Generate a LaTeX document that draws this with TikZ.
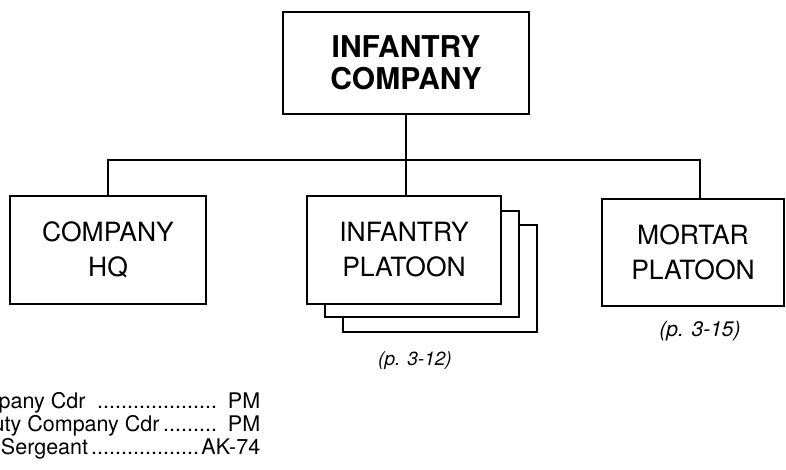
\documentclass[tikz,border=0pt]{standalone}
\usepackage{fontspec}
\setmainfont{TeX Gyre Heros}
\newcommand{\mydots}{\leaders\hbox to 6pt{\hss.\hss}\hfill}
\tikzset{
  unitbox/.style={draw, line width=1.5pt, fill=white, rectangle, inner sep=0pt, align=center,
    font=\fontsize{26.5}{35}\selectfont},
  topbox/.style={unitbox, font=\fontsize{30}{32}\selectfont\bfseries},
  conn/.style={line width=1.5pt},
  pageref/.style={font=\fontsize{19}{20}\selectfont\itshape, inner sep=0pt},
  roster/.style={font=\fontsize{21.5}{23}\selectfont, inner sep=0pt, anchor=base west}
}
\begin{document}
\begin{tikzpicture}[x=1pt,y=-1pt]
\useasboundingbox (0,0) rectangle (786,470);
\clip (0,0) rectangle (786,470);
\node[topbox, minimum width=246pt, minimum height=102pt] (top) at (406,63) {INFANTRY\\COMPANY};
\node[unitbox, minimum width=196pt, minimum height=108pt] (hq) at (108,250) {COMPANY\\HQ};
\node[unitbox, minimum width=194pt, minimum height=107pt] (plt3) at (440,278.5) {};
\node[unitbox, minimum width=194pt, minimum height=106pt] (plt2) at (422,264) {};
\node[unitbox, minimum width=194pt, minimum height=108pt] (plt1) at (404,250) {INFANTRY\\PLATOON};
\node[unitbox, minimum width=182pt, minimum height=107pt] (mortar) at (693,252.5) {MORTAR\\PLATOON};
\coordinate (bar) at (406,160);
\coordinate (mj) at ([xshift=7pt]mortar.north);
\draw[conn] (top.south) -- (top.south |- plt1.north);
\draw[conn] (hq.north) |- (bar) -| (mj);
\node[pageref] (ref1) at (415,361) {(p. 3-12)};
\node[pageref, font=\fontsize{21}{22}\selectfont\itshape] (ref2) at (700,331) {(p. 3-15)};
\node[roster] (r1) at (-47,408) {\makebox[307pt][l]{Company Cdr \mydots\ PM}};
\node[roster] (r2) at (-47,431) {\makebox[307pt][l]{Deputy Company Cdr\mydots\ PM}};
\node[roster] (r3) at (-47,454) {\makebox[307pt][l]{First Sergeant\mydots AK-74}};
\end{tikzpicture}
\end{document}
